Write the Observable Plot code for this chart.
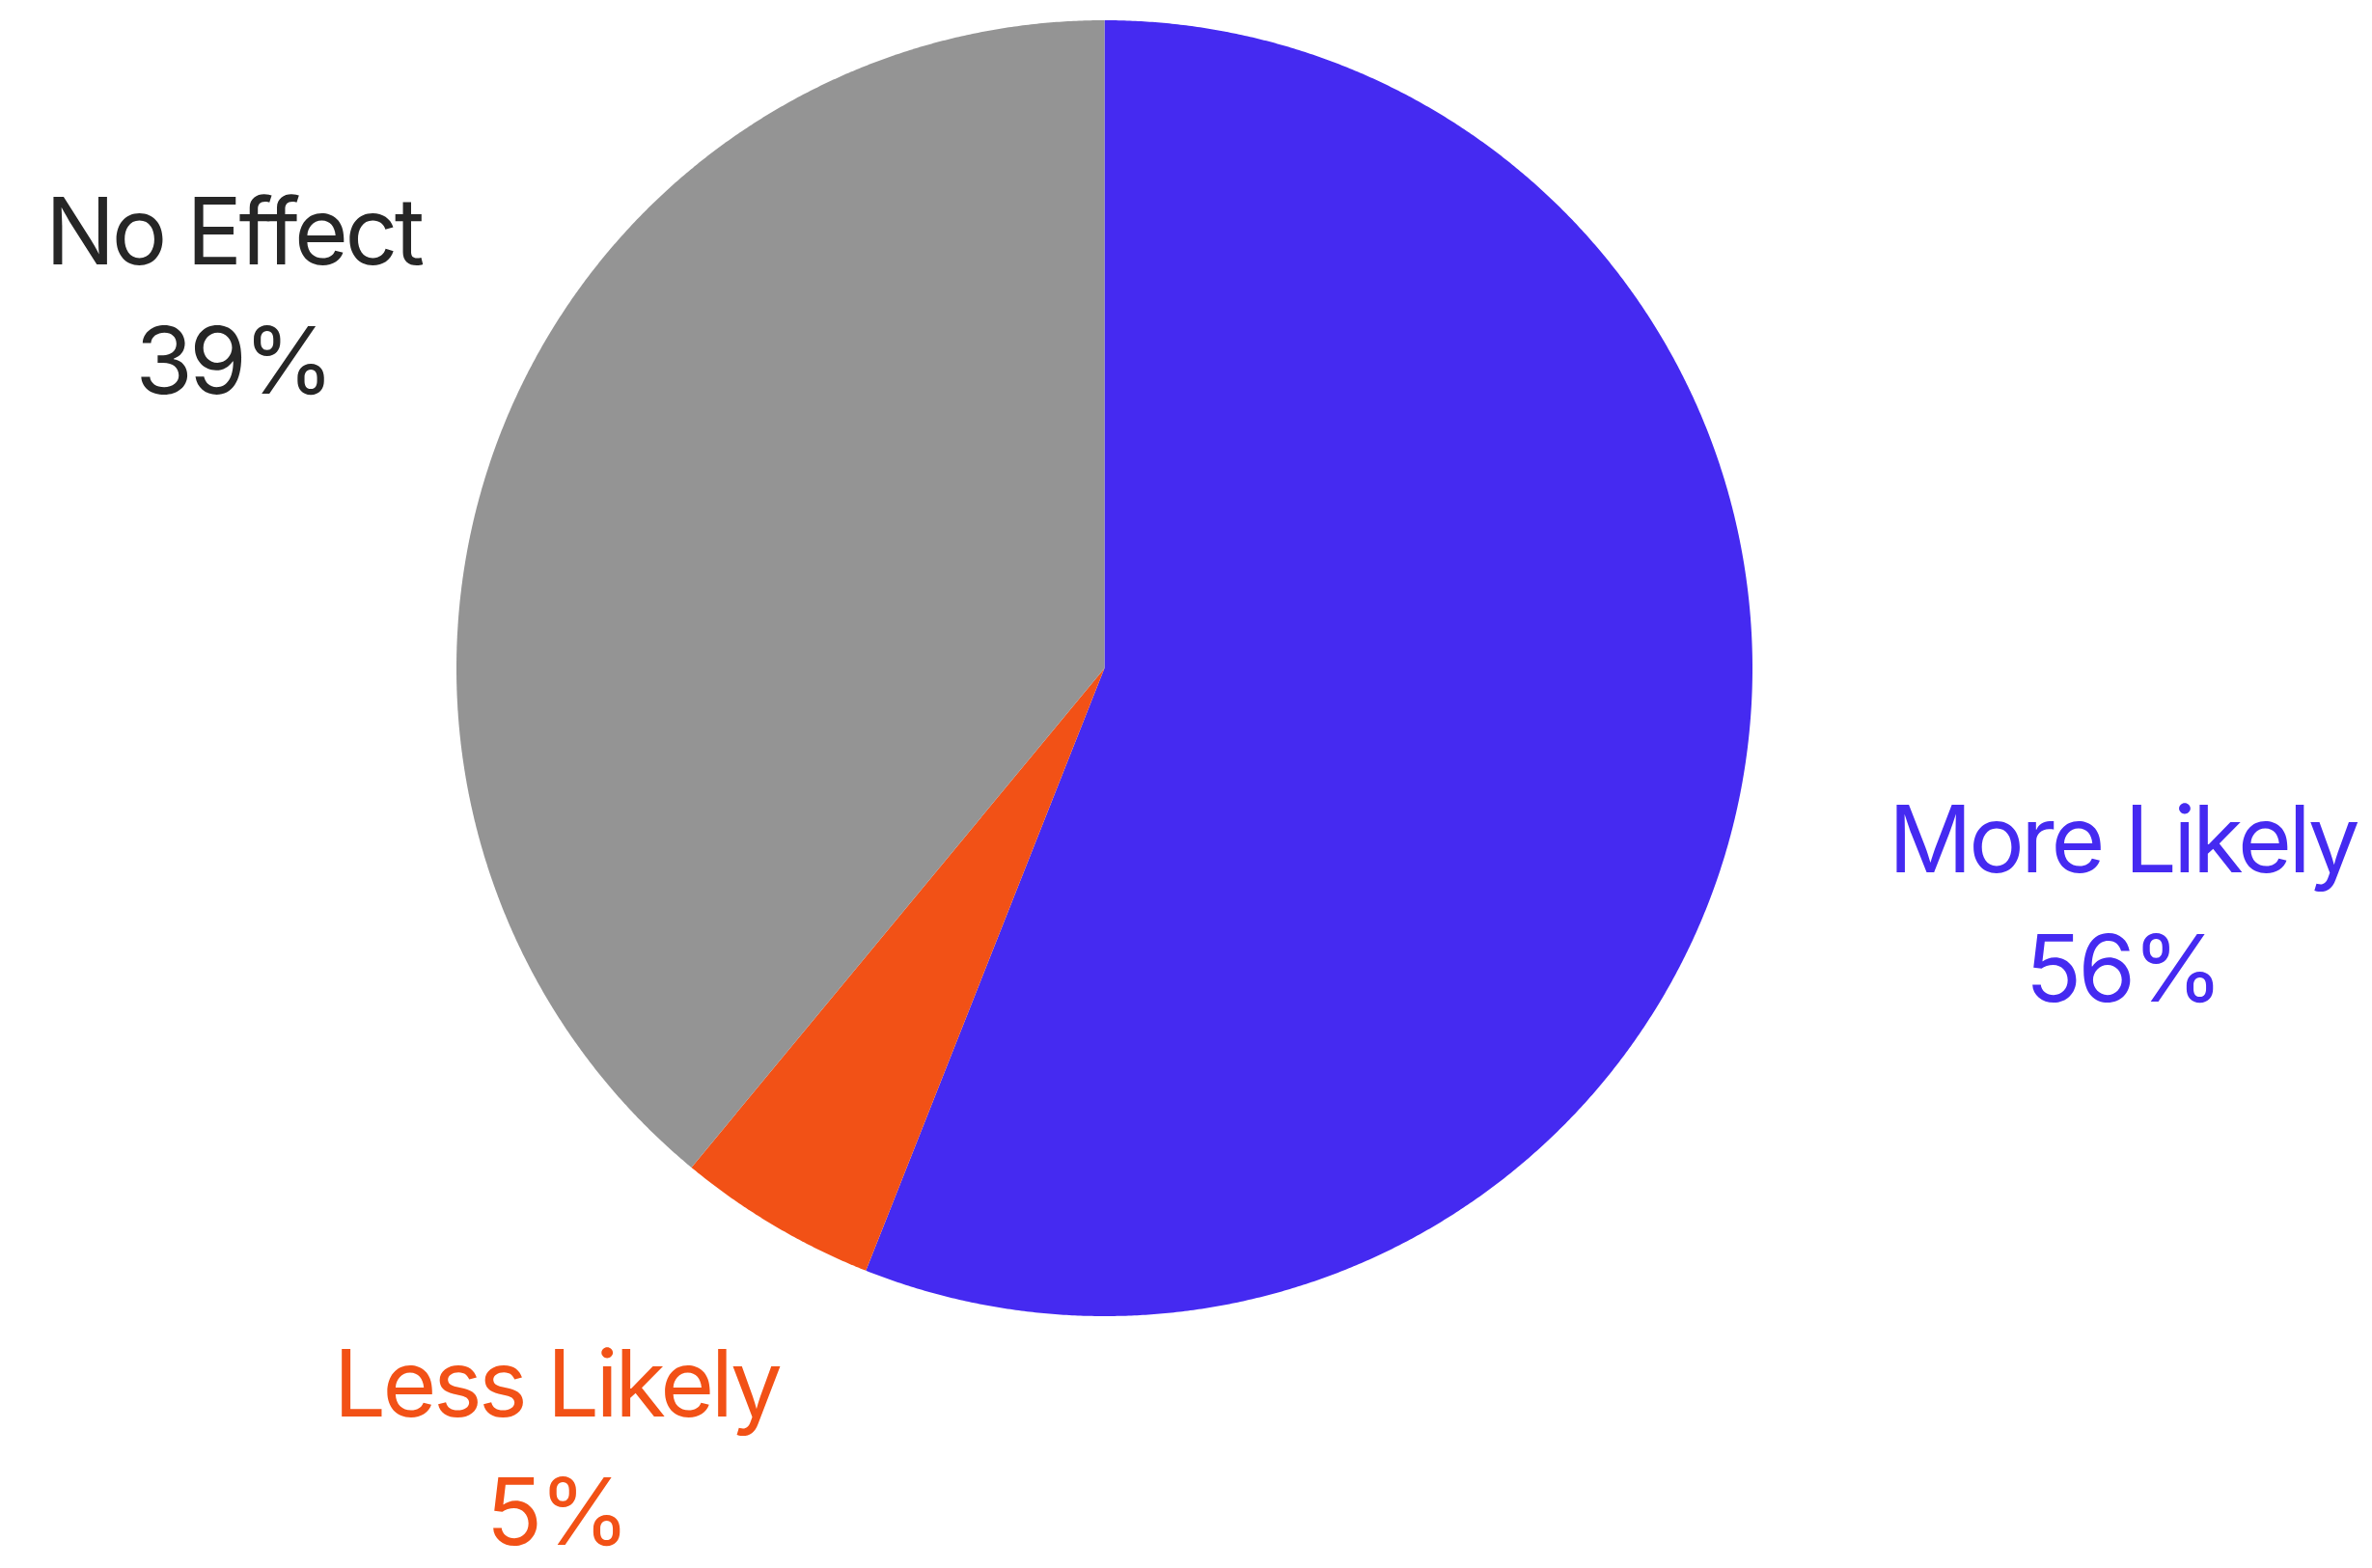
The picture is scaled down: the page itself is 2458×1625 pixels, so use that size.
<!DOCTYPE html>
<html>
<head>
<meta charset="utf-8">
<script src="https://cdn.jsdelivr.net/npm/d3@7"></script>
<script src="https://cdn.jsdelivr.net/npm/@observablehq/plot@0.6"></script>
<style>
  html, body { margin: 0; padding: 0; background: #ffffff; }
  #chart { width: 2458px; height: 1625px; }
  #chart svg text { letter-spacing: -3.5px; }
</style>
</head>
<body>
<div id="chart"></div>
<script>
// ---- data ----
const categories = ["More Likely", "Less Likely", "No Effect"];
const values = [56, 5, 39];
const sliceColors = ["#452af1", "#f25116", "#949494"];
const labelColors = ["#452af1", "#f25116", "#262626"];

// ---- layout ----
const W = 2458, H = 1625;
const cx = 1144, cy = 692, R = 671.5;
// label placement relative to each slice's mid-angle (layout only):
// distance in units of the pie radius, angular nudge in degrees
const labelLayout = {
  "More Likely": {dist: 1.61, shift: 1.8},
  "Less Likely": {dist: 1.46, shift: 4.8},
  "No Effect":   {dist: 1.467, shift: 3.8}
};

const total = d3.sum(values);
const slices = [];
let acc = 0;
categories.forEach((c, i) => {
  const a0 = acc / total * 2 * Math.PI;
  acc += values[i];
  const a1 = acc / total * 2 * Math.PI;
  slices.push({category: c, value: values[i], a0, a1, i});
});

// polygon vertices for each slice (unit circle, clockwise from top, y up)
const poly = [];
for (const s of slices) {
  poly.push({category: s.category, x: 0, y: 0});
  const n = Math.max(2, Math.ceil((s.a1 - s.a0) / (Math.PI / 720)));
  for (let k = 0; k <= n; ++k) {
    const a = s.a0 + (s.a1 - s.a0) * k / n;
    poly.push({category: s.category, x: Math.sin(a), y: Math.cos(a)});
  }
}

const labels = slices.map(s => {
  const L = labelLayout[s.category];
  const m = (s.a0 + s.a1) / 2 + L.shift * Math.PI / 180;
  return {
    category: s.category,
    text: `${s.category}\n${Math.round(s.value / total * 100)}%`,
    x: L.dist * Math.sin(m),
    y: L.dist * Math.cos(m),
    color: labelColors[s.i]
  };
});

const chart = Plot.plot({
  width: W,
  height: H,
  marginLeft: cx - R,
  marginRight: W - (cx + R),
  marginTop: cy - R,
  marginBottom: H - (cy + R),
  x: {domain: [-1, 1], axis: null},
  y: {domain: [-1, 1], axis: null},
  color: {domain: categories, range: sliceColors},
  style: {background: "#ffffff", overflow: "visible"},
  marks: [
    Plot.line(poly, {x: "x", y: "y", z: "category", fill: "category", stroke: "none", curve: "linear-closed"}),
    Plot.text(labels, {
      x: "x", y: "y", text: "text", fill: d => d.color,
      fontSize: 96, lineHeight: 1.39, fontFamily: "Inter", fontWeight: 400,
      textAnchor: "middle", clip: false
    })
  ]
});
document.getElementById("chart").appendChild(chart);
</script>
</body>
</html>
